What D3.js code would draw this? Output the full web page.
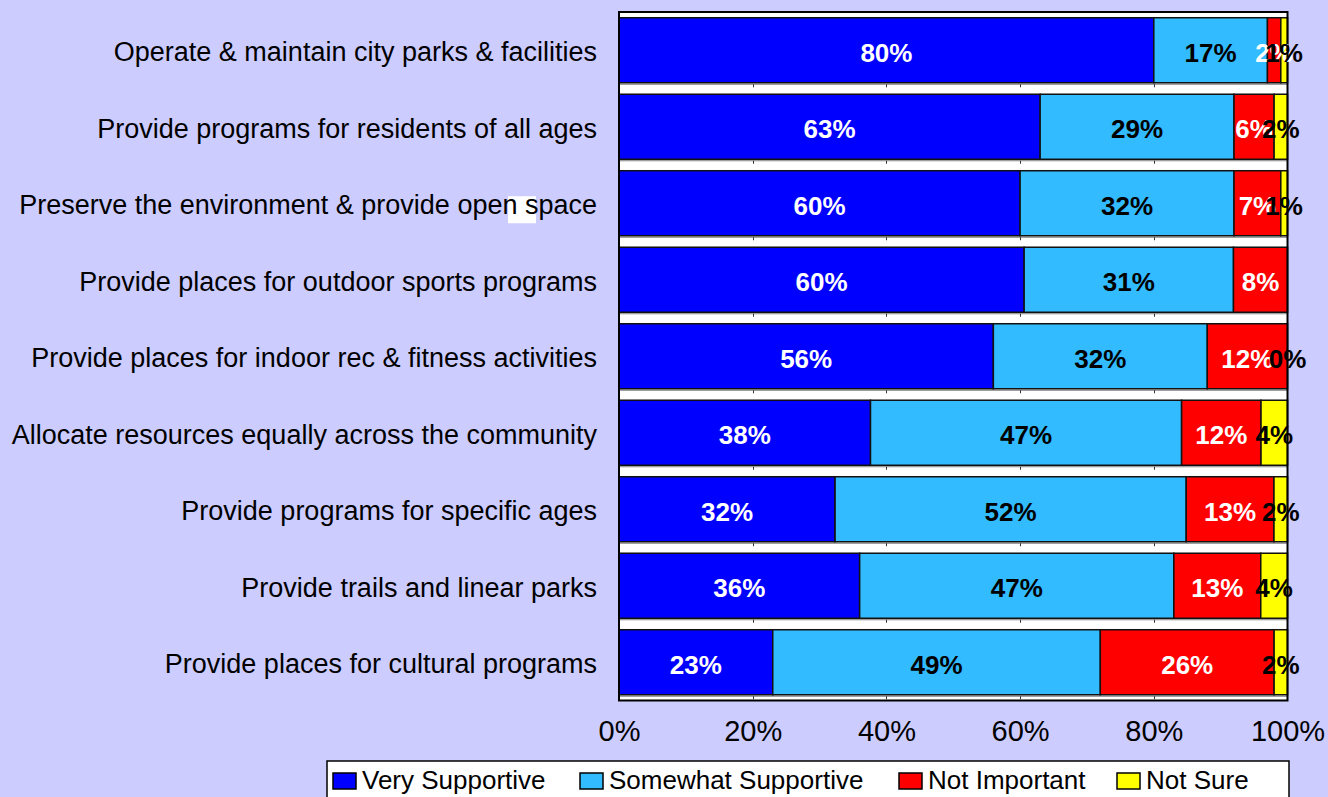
<!DOCTYPE html>
<html>
<head>
<meta charset="utf-8">
<script src="https://cdn.jsdelivr.net/npm/d3@7"></script>
<style>
  html, body { margin: 0; padding: 0; background: #CCCCFF; }
  svg { display: block; }
  text { font-family: "Liberation Sans", Arial, sans-serif; }
</style>
</head>
<body>
<svg id="chart" width="1328" height="797"></svg>
<script>
// ---------- data ----------
const categories = [
  "Operate & maintain city parks & facilities",
  "Provide programs for residents of all ages",
  "Preserve the environment & provide open space",
  "Provide places for outdoor sports programs",
  "Provide places for indoor rec & fitness activities",
  "Allocate resources equally across the community",
  "Provide programs for specific ages",
  "Provide trails and linear parks",
  "Provide places for cultural programs"
];
const seriesNames = ["Very Supportive", "Somewhat Supportive", "Not Important", "Not Sure"];
const verySupportive     = [80, 63, 60, 60, 56, 38, 32, 36, 23];
const somewhatSupportive = [17, 29, 32, 31, 32, 47, 52, 47, 49];
const notImportant       = [2, 6, 7, 8, 12, 12, 13, 13, 26];
const notSure            = [1, 2, 1, null, 0, 4, 2, 4, 2];
const xTicks = [0, 0.2, 0.4, 0.6, 0.8, 1.0];

const seriesColors = ["#0000FF", "#33BBFF", "#FF0000", "#FFFF00"];
const labelColors  = ["#FFFFFF", "#000000", "#FFFFFF", "#000000"];

// ---------- layout ----------
const svg = d3.select("#chart");
const plot = { left: 619, right: 1287.5, top: 12, bottom: 700.5 };

const x = d3.scaleLinear().domain([0, 1]).range([plot.left, plot.right]);
const y = d3.scaleBand().domain(categories)
  .range([plot.top, plot.bottom])
  .paddingInner(0.15).paddingOuter(0.075);

const allSeries = [verySupportive, somewhatSupportive, notImportant, notSure];

// build stacked (normalized to 100%) rows
const rows = categories.map((c, i) => {
  const vals = allSeries.map(s => s[i]);
  const total = d3.sum(vals, v => v || 0);
  let acc = 0;
  return vals.map((v, k) => {
    const x0 = acc / total;
    acc += (v || 0);
    return { cat: c, k, v, x0, x1: acc / total };
  });
});

// plot background
svg.append("rect")
  .attr("x", plot.left).attr("y", plot.top)
  .attr("width", plot.right - plot.left).attr("height", plot.bottom - plot.top)
  .attr("fill", "#FFFFFF");

// thin gray rule with small ticks under each bar
const rules = svg.append("g");
categories.forEach(c => {
  const yy = y(c) + y.bandwidth() + 1.5;
  rules.append("line")
    .attr("x1", plot.left).attr("x2", plot.right)
    .attr("y1", yy).attr("y2", yy)
    .attr("stroke", "#808080").attr("stroke-width", 1);
  xTicks.slice(1, -1).forEach(t => {
    rules.append("line")
      .attr("x1", Math.round(x(t)) + 0.5).attr("x2", Math.round(x(t)) + 0.5)
      .attr("y1", yy).attr("y2", yy + 3)
      .attr("stroke", "#333").attr("stroke-width", 1);
  });
});

// bars
const barG = svg.append("g");
rows.forEach(segs => {
  segs.forEach(s => {
    if (s.v === null) return;
    barG.append("rect")
      .attr("x", x(s.x0))
      .attr("y", y(s.cat))
      .attr("width", Math.max(0, x(s.x1) - x(s.x0)))
      .attr("height", y.bandwidth())
      .attr("fill", seriesColors[s.k])
      .attr("stroke", "#111")
      .attr("stroke-width", 1.5);
  });
});

// plot border
svg.append("rect")
  .attr("x", plot.left).attr("y", plot.top)
  .attr("width", plot.right - plot.left).attr("height", plot.bottom - plot.top)
  .attr("fill", "none").attr("stroke", "#000").attr("stroke-width", 2);

// value labels
const lblG = svg.append("g");
rows.forEach(segs => {
  segs.forEach(s => {
    if (s.v === null) return;
    lblG.append("text")
      .attr("x", x((s.x0 + s.x1) / 2))
      .attr("y", y(s.cat) + y.bandwidth() / 2 + 2)
      .attr("dy", "0.36em")
      .attr("text-anchor", "middle")
      .attr("font-size", 26)
      .attr("font-weight", "bold")
      .attr("fill", labelColors[s.k])
      .text(s.v + "%");
  });
});

// odd white patch behind a category label (as in the original)
const pc = categories[2];
svg.append("rect")
  .attr("x", 508).attr("y", y(pc) + y.bandwidth() / 2 - 7)
  .attr("width", 28).attr("height", 27)
  .attr("fill", "#FFFFFF");

// category axis
const yAxis = svg.append("g")
  .attr("transform", `translate(${plot.left},2.5)`)
  .call(d3.axisLeft(y).tickSize(0).tickPadding(22));
yAxis.select(".domain").remove();
yAxis.selectAll("text")
  .attr("font-size", 27)
  .attr("fill", "#000")
  .attr("font-family", "'Liberation Sans', Arial, sans-serif");

// value axis
const xAxis = svg.append("g")
  .attr("transform", `translate(0,${plot.bottom})`)
  .call(d3.axisBottom(x).tickValues(xTicks).tickFormat(d3.format(".0%")).tickSize(0));
xAxis.select(".domain").remove();
xAxis.selectAll("text")
  .attr("dy", null)
  .attr("y", 40)
  .attr("font-size", 29)
  .attr("fill", "#000")
  .attr("font-family", "'Liberation Sans', Arial, sans-serif");

// legend
const legend = svg.append("g");
legend.append("rect")
  .attr("x", 327).attr("y", 761)
  .attr("width", 962).attr("height", 60)
  .attr("fill", "#FFFFFF").attr("stroke", "#000").attr("stroke-width", 1.5);
const legendTextX = [362, 609, 928, 1146];
seriesNames.forEach((n, k) => {
  legend.append("rect")
    .attr("x", legendTextX[k] - 29).attr("y", 773)
    .attr("width", 23).attr("height", 16)
    .attr("fill", seriesColors[k]).attr("stroke", "#000").attr("stroke-width", 1.5);
  legend.append("text")
    .attr("x", legendTextX[k]).attr("y", 789)
    .attr("font-size", 26).attr("fill", "#000")
    .text(n);
});
</script>
</body>
</html>
